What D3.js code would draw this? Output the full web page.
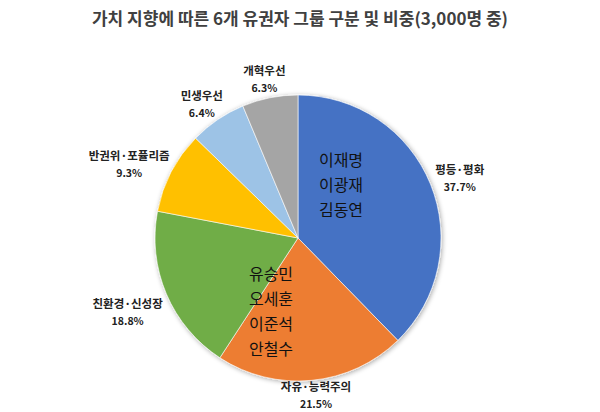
<!DOCTYPE html>
<html>
<head>
<meta charset="utf-8">
<script src="https://cdn.jsdelivr.net/npm/d3@7"></script>
<style>
  body { margin: 0; background: #fff; }
  text { font-family: "Noto Sans CJK KR", "Noto Sans", sans-serif; }
</style>
</head>
<body>
<script>
// 데이터
const groups = ["평등·평화", "자유·능력주의", "친환경·신성장", "반권위·포퓰리즘", "민생우선", "개혁우선"];
const shares = [37.7, 21.5, 18.8, 9.3, 6.4, 6.3];
const colors = ["#4472C4", "#ED7D31", "#70AD47", "#FFC000", "#9DC3E6", "#A5A5A5"];
const bluePeople = ["이재명", "이광재", "김동연"];
const orangePeople = ["유승민", "오세훈", "이준석", "안철수"];

const width = 600, height = 412;
const cx = 298, cy = 238, r = 143;

const svg = d3.select("body").append("svg")
  .attr("width", width)
  .attr("height", height);

// 그림자
const defs = svg.append("defs");
const f = defs.append("filter").attr("id", "shadow")
  .attr("x", "-10%").attr("y", "-10%").attr("width", "120%").attr("height", "120%");
f.append("feGaussianBlur").attr("in", "SourceAlpha").attr("stdDeviation", 2.5).attr("result", "b");
f.append("feOffset").attr("in", "b").attr("dx", 1).attr("dy", 1).attr("result", "o");
f.append("feComponentTransfer").attr("in", "o").attr("result", "s")
  .append("feFuncA").attr("type", "linear").attr("slope", 0.35);
const m = f.append("feMerge");
m.append("feMergeNode").attr("in", "s");
m.append("feMergeNode").attr("in", "SourceGraphic");

// 제목
svg.append("text")
  .attr("x", width / 2)
  .attr("y", 25)
  .attr("text-anchor", "middle")
  .attr("font-size", 17)
  .attr("font-weight", "bold")
  .attr("fill", "#404040")
  .text("가치 지향에 따른 6개 유권자 그룹 구분 및 비중(3,000명 중)");

const data = groups.map((g, i) => ({ name: g, value: shares[i], color: colors[i] }));

const pie = d3.pie().value(d => d.value).sort(null);
const arc = d3.arc().innerRadius(0).outerRadius(r);
const arcs = pie(data);

const g = svg.append("g").attr("transform", `translate(${cx},${cy})`);

g.append("g").attr("filter", "url(#shadow)")
  .selectAll("path")
  .data(arcs)
  .enter()
  .append("path")
  .attr("d", arc)
  .attr("fill", d => d.data.color)
  .attr("stroke", "#fff")
  .attr("stroke-width", 0.6);

// 바깥 라벨 (원 가장자리 기준점 + 상자 크기만큼 밀어냄)
arcs.forEach(d => {
  const a = (d.startAngle + d.endAngle) / 2;
  const lab = g.append("g");
  const t1 = lab.append("text")
    .attr("text-anchor", "middle")
    .attr("font-size", 11.5)
    .attr("font-weight", "bold")
    .attr("fill", "#222")
    .attr("y", -3)
    .text(d.data.name);
  lab.append("text")
    .attr("text-anchor", "middle")
    .attr("font-size", 10.5)
    .attr("font-weight", "bold")
    .attr("fill", "#222")
    .attr("y", 14)
    .text(d.data.value.toFixed(1) + "%");
  const w = t1.node().getComputedTextLength();
  const s = Math.sin(a), c = Math.cos(a);
  const h = c > 0 ? 40 : 28;
  const ax = r * s, ay = -r * c;
  const x = ax + s * (w / 2 + 7);
  const y = ay - c * h / 2 + (c < 0 && Math.abs(s) > 0.5 ? 12 : 0);
  lab.attr("transform", `translate(${x},${y})`);
});

// 슬라이스 안 이름
function names(list, dx, dy) {
  g.append("g")
    .selectAll("text")
    .data(list)
    .enter()
    .append("text")
    .attr("x", dx)
    .attr("y", (d, i) => dy + i * 25)
    .attr("text-anchor", "middle")
    .attr("font-size", 16)
    .attr("fill", "#111")
    .text(d => d);
}
names(bluePeople, 43, -72);
names(orangePeople, -27, 42);
</script>
</body>
</html>
